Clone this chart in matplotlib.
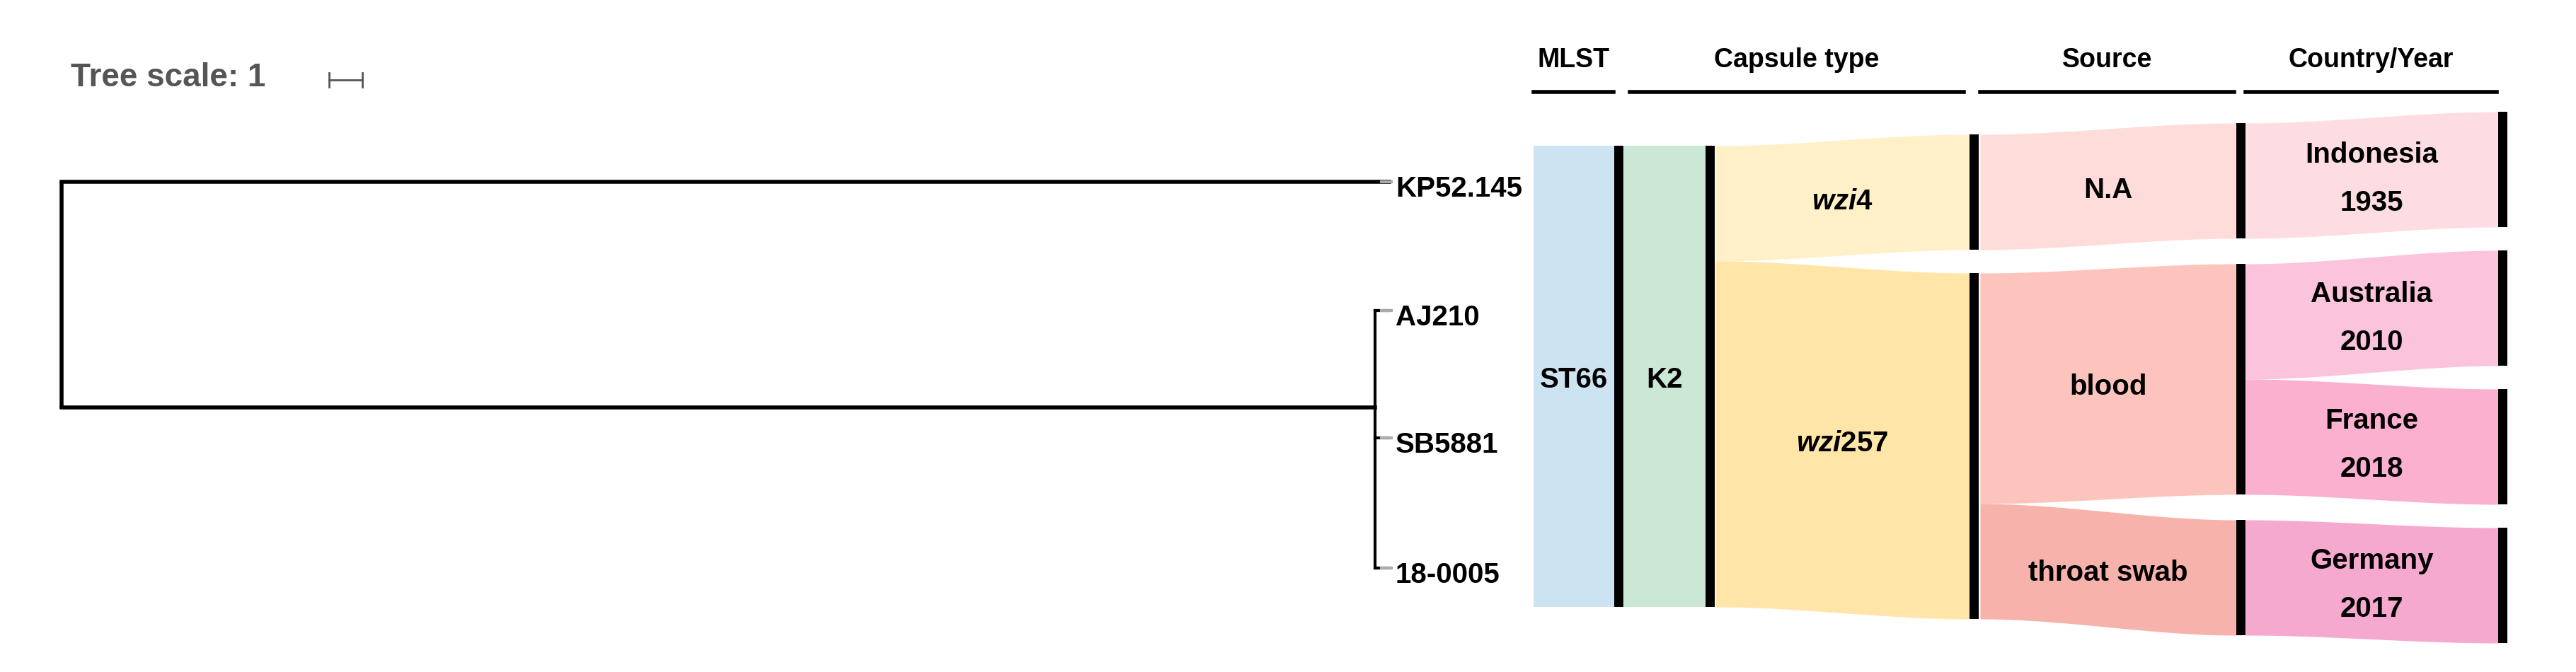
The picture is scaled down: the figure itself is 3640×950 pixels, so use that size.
import numpy as np
import matplotlib
matplotlib.use("Agg")
from matplotlib import pyplot as plt

plt.rcParams['font.family'] = ['Liberation Sans', 'DejaVu Sans']
plt.rcParams['font.weight'] = 'bold'
plt.rcParams['mathtext.fontset'] = 'custom'
plt.rcParams['mathtext.it'] = 'Liberation Sans:italic:bold'
plt.rcParams['mathtext.rm'] = 'Liberation Sans:bold'

# strains in tree order
strains = ["KP52.145", "AJ210", "SB5881", "18-0005"]
# tree: branch lengths (tree units)
root_to_kp = 18.9
root_to_inner = 18.7
inner_to_tip = [0.2, 0.2, 0.2]

headers = ["MLST", "Capsule type", "Source", "Country/Year"]
mlst = ["ST66", "ST66", "ST66", "ST66"]
k_type = ["K2", "K2", "K2", "K2"]
wzi = ["$\\it{wzi}$4", "$\\it{wzi}$257", "$\\it{wzi}$257", "$\\it{wzi}$257"]
source = ["N.A", "blood", "blood", "throat swab"]
country = ["Indonesia\n1935", "Australia\n2010", "France\n2018", "Germany\n2017"]

columns = [mlst, k_type, wzi, source, country]
col_colors = [
    {"ST66": "#cce3f1"},
    {"K2": "#cbe8d6"},
    {"$\\it{wzi}$4": "#fff0c8", "$\\it{wzi}$257": "#ffe6a8"},
    {"N.A": "#fddcd9", "blood": "#fcc4bd", "throat swab": "#f6b2ab"},
    {"Indonesia\n1935": "#fddde2", "Australia\n2010": "#fcc4dc",
     "France\n2018": "#fbb0d0", "Germany\n2017": "#f6a9cf"},
]
# layout (pixels)
col_x = [(2167, 2281), (2295, 2410), (2424, 2783), (2798, 3160), (3173, 3530)]
col_top = [206, 206, 190, 174, 158]
col_gap = [0, 0, 33, 36, 33]
unit = 163
bar_w = 13

fig = plt.figure(figsize=(36.41, 9.5), dpi=100)
ax = fig.add_axes([0, 0, 1, 1])
ax.set_xlim(0, 3641)
ax.set_ylim(950, 0)
ax.axis('off')


def positions(col):
    vals = columns[col]
    out = []
    breaks = 0
    for i, v in enumerate(vals):
        if i > 0 and vals[i] != vals[i - 1]:
            breaks += 1
        t = col_top[col] + i * unit + breaks * col_gap[col]
        out.append((t, t + unit))
    return out


# tree
tip_y = [257, 439, 619, 803]
x0 = 87
scale = (1943 - x0) / root_to_inner
inner_x = x0 + root_to_inner * scale
inner_y = 576
lw = 4
ax.plot([x0, x0], [tip_y[0], inner_y], color='k', lw=lw, solid_capstyle='butt')
ax.plot([x0, x0 + root_to_kp * scale * 1.0], [tip_y[0], tip_y[0]], color='k', lw=lw)
ax.plot([x0, inner_x], [inner_y, inner_y], color='k', lw=lw)
ax.plot([inner_x, inner_x], [tip_y[1], tip_y[3]], color='k', lw=3)
for y, d in zip(tip_y[1:], inner_to_tip):
    ax.plot([inner_x, inner_x + d * scale], [y, y], color='k', lw=3)
for y in tip_y:
    ax.plot([1952, 1966], [y, y], color='#aaaaaa', lw=3)
for s, y in zip(strains, tip_y):
    ax.text(1972, y + 10, s, fontsize=29, va='center', ha='left')

# tree scale
ax.text(100, 110, "Tree scale: 1", fontsize=33, color='#555555', va='center')
ax.plot([465, 512], [113, 113], color='#555555', lw=2)
ax.plot([465, 465], [103, 123], color='#555555', lw=2)
ax.plot([512, 512], [103, 123], color='#555555', lw=2)

# headers
head_spans = [(2167, 2280), (2303, 2775), (2798, 3157), (3173, 3528)]
for h, (a, b) in zip(headers, head_spans):
    ax.text((a + b) / 2, 85, h, fontsize=27, ha='center', va='center')
    ax.plot([a, b], [130, 130], color='k', lw=4)

# bands
t = np.linspace(0, 1, 60)
smooth = 3 * t ** 2 - 2 * t ** 3
for c, vals in enumerate(columns):
    right = positions(c)
    left = positions(c - 1) if c > 0 else right
    xa, xb = col_x[c]
    xs = xa + (xb - xa) * t
    cats = list(dict.fromkeys(vals))
    for cat in cats:
        idx = [i for i, v in enumerate(vals) if v == cat]
        lt, lb = left[idx[0]][0], left[idx[-1]][1]
        rt, rb = right[idx[0]][0], right[idx[-1]][1]
        top = lt + (rt - lt) * smooth
        bot = lb + (rb - lb) * smooth
        ax.fill_between(xs, top, bot, color=col_colors[c][cat], lw=0)
        ym = (lt + rt + lb + rb) / 4
        ax.text((xa + xb) / 2, ym + 5, cat, fontsize=29, ha='center',
                va='center', linespacing=2.0)
        ax.fill_between([xb, xb + bar_w], [rt, rt], [rb, rb], color='k', lw=0)

fig.savefig("out.png", dpi=100)
